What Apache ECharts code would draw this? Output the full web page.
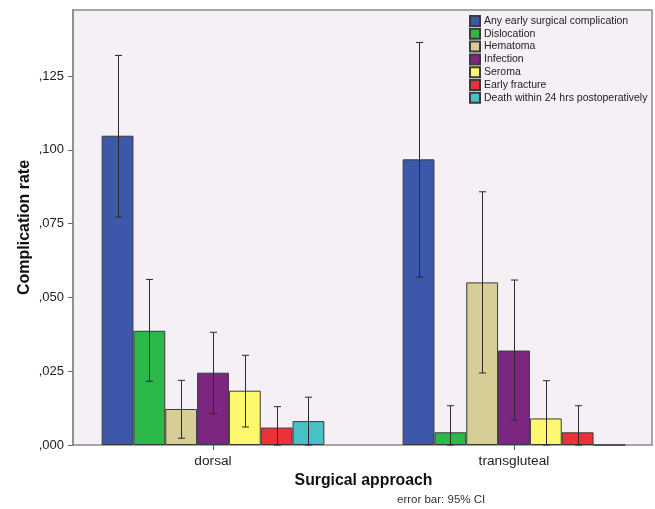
<!DOCTYPE html>
<html>
<head>
<meta charset="utf-8">
<script src="https://cdn.jsdelivr.net/npm/echarts@6/dist/echarts.min.js"></script>
<style>
html,body{margin:0;padding:0;background:#fff;}
#chart{width:655px;height:509px;}
</style>
</head>
<body>
<div id="chart"></div>
<script>
const categories = ['dorsal', 'transgluteal'];
const seriesNames = ['Any early surgical complication', 'Dislocation', 'Hematoma', 'Infection', 'Seroma', 'Early fracture', 'Death within 24 hrs postoperatively'];
const anyComplication = [0.1048, 0.0968];
const dislocation = [0.0387, 0.0043];
const hematoma = [0.0122, 0.0551];
const infection = [0.0245, 0.0320];
const seroma = [0.0184, 0.0090];
const earlyFracture = [0.0059, 0.0043];
const death24h = [0.0081, 0.0];
const anyComplicationCI = [[0.0773, 0.1320], [0.0569, 0.1364]];
const dislocationCI = [[0.0216, 0.0561], [0.0, 0.0133]];
const hematomaCI = [[0.0023, 0.0219], [0.0244, 0.0858]];
const infectionCI = [[0.0106, 0.0382], [0.0084, 0.0559]];
const seromaCI = [[0.0061, 0.0304], [0.0, 0.0218]];
const earlyFractureCI = [[0.0, 0.0130], [0.0, 0.0133]];
const death24hCI = [[0.0, 0.0162], null];
const yTicks = [0, 0.025, 0.05, 0.075, 0.1, 0.125];
const yMax = 0.1474;

const values = [anyComplication, dislocation, hematoma, infection, seroma, earlyFracture, death24h];
const cis = [anyComplicationCI, dislocationCI, hematomaCI, infectionCI, seromaCI, earlyFractureCI, death24hCI];
const colors = ['#3D58AA', '#2DB84A', '#D6CE96', '#7D2680', '#FCF96F', '#EE3039', '#47C1C6'];
const catGap = 0.26;
const fmt = v => v.toFixed(3).replace('0.', ',');
const FONT = 'Liberation Sans, Arial, sans-serif';

const series = [];
values.forEach((vals, i) => {
  series.push({
    name: seriesNames[i], type: 'bar', xAxisIndex: 1, yAxisIndex: 1,
    data: vals, barGap: '0%', barCategoryGap: (catGap * 100) + '%',
    itemStyle: { color: colors[i], borderColor: '#3a3a3a', borderWidth: 1 },
    emphasis: { disabled: true }
  });
});
cis.forEach((ci, i) => {
  const data = [];
  ci.forEach((c, k) => { if (c) data.push([k, c[0], c[1]]); });
  series.push({
    name: seriesNames[i], type: 'custom', xAxisIndex: 1, yAxisIndex: 1, z: 5,
    data: data,
    renderItem: function (params, api) {
      const k = api.value(0);
      const band = api.size([1, 0])[0];
      const bw = band * (1 - catGap) / 7;
      const lo = api.coord([k, api.value(1)]);
      const hi = api.coord([k, api.value(2)]);
      const x = Math.round(lo[0] + (i - 3) * bw) + 0.5;
      const cap = 3.5;
      const st = { stroke: '#2a2a2a', lineWidth: 1 };
      return { type: 'group', children: [
        { type: 'line', shape: { x1: x, y1: hi[1], x2: x, y2: lo[1] }, style: st },
        { type: 'line', shape: { x1: x - cap, y1: hi[1], x2: x + cap, y2: hi[1] }, style: st },
        { type: 'line', shape: { x1: x - cap, y1: lo[1], x2: x + cap, y2: lo[1] }, style: st }
      ]};
    }
  });
});

const chart = echarts.init(document.getElementById('chart'), null, { renderer: 'canvas' });
chart.setOption({
  backgroundColor: '#ffffff',
  animation: false,
  textStyle: { fontFamily: FONT },
  grid: [
    { left: 73, right: 3, top: 10, bottom: 64, show: true, backgroundColor: '#F5F0F5', borderColor: '#8a8a8a', borderWidth: 1.5, outerBoundsMode: 'none', containLabel: false },
    { left: 62.5, width: 602, top: 10, bottom: 64, outerBoundsMode: 'none', containLabel: false }
  ],
  legend: {
    data: seriesNames, orient: 'vertical', left: 464, top: 10,
    itemWidth: 10, itemHeight: 10, itemGap: 0.8, icon: 'rect',
    textStyle: { fontSize: 10.5, lineHeight: 11, color: '#222', fontFamily: FONT, padding: [0, 0, 0, -1] },
    selectedMode: false
  },
  xAxis: [
    { type: 'category', gridIndex: 0, data: categories, show: false },
    { type: 'category', gridIndex: 1, data: categories,
      axisLine: { show: false },
      axisTick: { show: true, alignWithLabel: true, length: 5, lineStyle: { color: '#555' } },
      axisLabel: { fontSize: 13.7, color: '#222', margin: 9 },
      name: 'Surgical approach', nameLocation: 'middle', nameGap: 22,
      nameTextStyle: { fontSize: 15.8, fontWeight: 'bold', color: '#111' } }
  ],
  yAxis: [
    { type: 'value', gridIndex: 0, min: 0, max: yMax, interval: 0.025,
      axisLine: { show: true, lineStyle: { color: '#8a8a8a', width: 1.5 } },
      axisTick: { show: true, length: 5, customValues: yTicks, lineStyle: { color: '#666' } },
      axisLabel: { customValues: yTicks, formatter: fmt, fontSize: 13, color: '#222', margin: 9 },
      splitLine: { show: false },
      name: 'Complication rate', nameLocation: 'middle', nameGap: 40, nameMoveOverlap: false,
      nameTextStyle: { fontSize: 16, fontWeight: 'bold', color: '#111' } },
    { type: 'value', gridIndex: 1, min: 0, max: yMax, show: false, splitLine: { show: false } }
  ],
  graphic: [
    { type: 'text', left: 397, top: 494, style: { text: 'error bar: 95% CI', fontSize: 11.5, fill: '#333', fontFamily: FONT } }
  ],
  series: series
});
</script>
</body>
</html>
